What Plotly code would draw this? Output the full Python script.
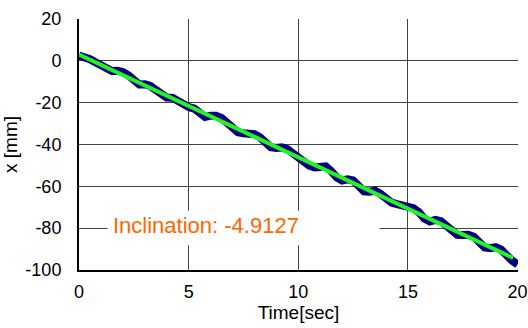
import plotly.graph_objects as go

# Time axis samples [sec]
time_sec = [i * 0.25 for i in range(81)]
x_mm = [
    2.5, 1.8, 0.8, -0.7, -2.4, -4.3, -4.9, -4.8, -5.3, -6.9,
    -9.3, -11.3, -11.2, -12.0, -13.9, -15.9, -17.5, -17.6, -19.1, -21.3,
    -22.1, -22.8, -25.2, -26.8, -26.2, -26.2, -27.3, -29.7, -32.4, -34.1,
    -34.6, -34.6, -35.1, -36.5, -39.1, -41.3, -41.7, -41.4, -42.2, -44.4,
    -46.6, -48.2, -50.1, -51.0, -50.5, -50.5, -52.7, -55.7, -57.2, -56.7,
    -57.2, -59.9, -62.4, -62.6, -62.1, -63.6, -66.0, -67.8, -68.5, -69.3,
    -69.7, -70.4, -72.4, -75.4, -76.8, -76.0, -76.6, -78.8, -81.7, -83.2,
    -83.3, -83.2, -84.1, -87.0, -89.2, -89.6, -89.1, -90.3, -93.3, -95.5,
    -97.3,
]
# Fitted line
fit_slope = -4.9127
fit_intercept = 3.0
fit_t = [0.0, 19.8]
fit_x = [fit_intercept + fit_slope * t for t in fit_t]

x_ticks = [0, 5, 10, 15, 20]
y_ticks = [-100, -80, -60, -40, -20, 0, 20]
label_text = "Inclination: -4.9127"

fig = go.Figure()
fig.add_trace(go.Scatter(x=time_sec, y=x_mm, mode="lines",
                         line=dict(color="#000080", width=8),
                         showlegend=False, hoverinfo="skip"))
fig.add_trace(go.Scatter(x=fit_t, y=fit_x, mode="lines",
                         line=dict(color="#22F322", width=4),
                         showlegend=False, hoverinfo="skip"))

# white text box that hides the gridlines behind the label
fig.add_shape(type="rect", xref="x", yref="y", x0=1.3, x1=13.7, y0=-88.2, y1=-71.7,
              fillcolor="white", line=dict(width=0), layer="between")
fig.add_annotation(x=5.8, y=-78.8, xref="x", yref="y", text=label_text,
                   showarrow=False, font=dict(family="Liberation Sans, Arial", size=22, color="#FF6600"))

axis_font = dict(family="Liberation Sans, Arial", size=18, color="black")
title_font = dict(family="Liberation Sans, Arial", size=19, color="black")

fig.update_xaxes(range=[0, 20.02], tickvals=x_ticks, ticktext=[str(v) for v in x_ticks],
                 showgrid=True, gridcolor="#444444", gridwidth=1,
                 showline=True, linecolor="black", linewidth=2, zeroline=False,
                 ticks="", tickfont=axis_font, ticklabelstandoff=4, automargin=False,
                 ticklabeloverflow="allow",
                 title=dict(text="Time[sec]", font=title_font, standoff=5))
fig.update_yaxes(range=[-100, 20], tickvals=y_ticks, ticktext=[str(v) for v in y_ticks],
                 showgrid=True, gridcolor="#444444", gridwidth=1,
                 showline=True, linecolor="black", linewidth=2, zeroline=False,
                 ticks="", tickfont=axis_font, ticklabelstandoff=12, automargin=False,
                 title=dict(text="x [mm]", font=title_font, standoff=6))

fig.update_layout(width=528, height=328, margin=dict(l=79, r=10, t=19, b=58),
                  paper_bgcolor="white", plot_bgcolor="white",
                  font=dict(family="Liberation Sans, Arial"))

fig.write_html("out.html", default_width="528px", default_height="328px",
               config={"displayModeBar": False},
               post_script="document.body.style.margin='0';document.body.style.overflow='hidden';")
